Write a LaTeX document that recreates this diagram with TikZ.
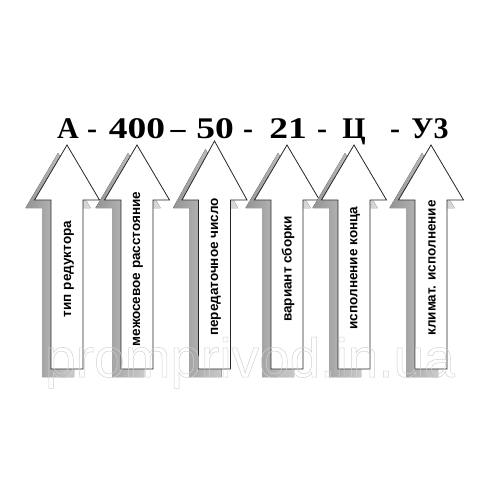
\documentclass[tikz,border=0pt]{standalone}
\usepackage{fontspec}
\setmainfont{Liberation Serif}
\setsansfont{Liberation Sans}
\begin{document}
\begin{tikzpicture}[x=1pt,y=-1pt,
  arrowbody/.style={draw=black!85, fill=white, line width=0.8pt},
  arrowshadow/.style={left color=black!42, right color=black!14, draw=none},
  code/.style={font=\fontsize{30}{32}\selectfont\bfseries, anchor=base, inner sep=0pt},
  wide/.style={xscale=1.25},
  lbl/.style={font=\sffamily\bfseries\fontsize{13.5}{15}\selectfont, rotate=90, inner sep=0pt},
  wmark/.style={font=\sffamily\fontsize{55}{60}\selectfont, text=black!18, anchor=base, inner sep=0pt}]
\useasboundingbox (0,0) rectangle (500,500);
\fill[white] (0,0) rectangle (500,500);
% arrows
\foreach \cx/\ty in {67/145, 137/145, 214.5/141, 287/145, 354/145, 431/145}{
  \fill[arrowshadow, shift={(-9,8)}] (\cx,\ty) -- (\cx+32.5,200) -- (\cx+16,200) -- (\cx+16,369) -- (\cx-16,369) -- (\cx-16,200) -- (\cx-32.5,200) -- cycle;
  \draw[arrowbody] (\cx,\ty) -- (\cx+32.5,200) -- (\cx+16,200) -- (\cx+16,369) -- (\cx-16,369) -- (\cx-16,200) -- (\cx-32.5,200) -- cycle;
}
% labels in arrows
\node[lbl] (l1) at (69,269) {тип редуктора};
\node[lbl] (l2) at (138,269) {межосевое расстояние};
\node[lbl] (l3) at (216,267) {передаточное число};
\node[lbl] (l4) at (288,269) {вариант сборки};
\node[lbl] (l5) at (355,268) {исполнение конца};
\node[lbl] (l6) at (432,268) {климат. исполнение};
% code line
\node[code] (c1) at (68,138) {А};
\node[code] (d1) at (92,138) {-};
\node[code, wide] (c2) at (137,138) {400};
\node[code] (d2) at (178,138) {–};
\node[code, wide] (c3) at (215,138) {50};
\node[code] (d3) at (248,138) {-};
\node[code, wide] (c4) at (288,138) {21};
\node[code] (d4) at (322,138) {-};
\node[code] (c5) at (354,138) {Ц};
\node[code] (d5) at (395,138) {-};
\node[code] (c6) at (430,138) {У3};
% watermark
\node[wmark] (wm) at (250,377) {\special{pdf:literal 1 Tr 0.5 w}promprivod.in.ua\special{pdf:literal 0 Tr 0.4 w}};
\end{tikzpicture}
\end{document}
